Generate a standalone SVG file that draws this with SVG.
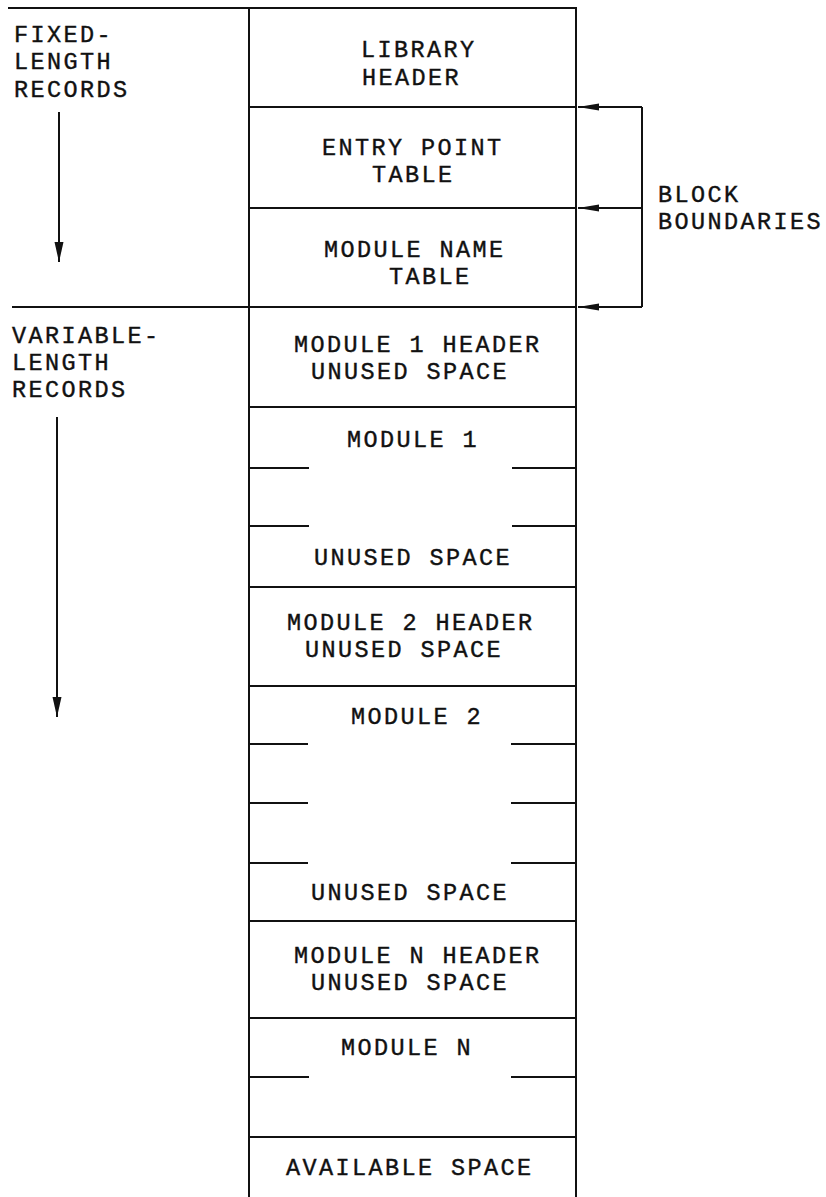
<svg xmlns="http://www.w3.org/2000/svg" width="826" height="1197" viewBox="0 0 826 1197">
<style>
text{font-family:"Liberation Mono","Courier New",monospace;font-size:23.5px;letter-spacing:2.4px;fill:#111;stroke:#111;stroke-width:0.4px}
.box{fill:none;stroke:#111;stroke-width:2}
.ln{stroke:#111;stroke-width:2;fill:none}
</style>
<defs>
<marker id="ahv" markerUnits="userSpaceOnUse" markerWidth="22" markerHeight="10" refX="20" refY="5" orient="auto"><path d="M0,0.5 L20,5 L0,9.5 Z" fill="#111"/></marker>
<marker id="ahb" markerUnits="userSpaceOnUse" markerWidth="22" markerHeight="8" refX="21" refY="4" orient="auto"><path d="M0,0.5 L21,4 L0,7.5 Z" fill="#111"/></marker>
</defs>
<rect width="826" height="1197" fill="#fff"/>

<g id="side-labels">
<text x="14" y="42">FIXED-</text>
<text x="14" y="69">LENGTH</text>
<text x="14" y="97">RECORDS</text>
<text x="12" y="343">VARIABLE-</text>
<text x="12" y="370">LENGTH</text>
<text x="12" y="397">RECORDS</text>
<text x="658" y="202">BLOCK</text>
<text x="658" y="229">BOUNDARIES</text>
</g>

<g id="library-header"><rect class="box" x="249" y="8" width="327" height="99"/><text x="361" y="57">LIBRARY</text><text x="362" y="85">HEADER</text></g>
<g id="entry-point-table"><rect class="box" x="249" y="107" width="327" height="101"/><text x="322" y="155">ENTRY POINT</text><text x="372" y="182">TABLE</text></g>
<g id="module-name-table"><rect class="box" x="249" y="208" width="327" height="99"/><text x="324" y="257">MODULE NAME</text><text x="389" y="284">TABLE</text></g>
<g id="module1-header"><rect class="box" x="249" y="307" width="327" height="100"/><text x="294" y="352">MODULE 1 HEADER</text><text x="311" y="379">UNUSED SPACE</text></g>
<g id="module1"><rect class="box" x="249" y="407" width="327" height="180"/><text x="347" y="447">MODULE 1</text>
<path class="ln" d="M249,468H309M512,468H576M249,526H309M512,526H576"/><text x="314" y="565">UNUSED SPACE</text></g>
<g id="module2-header"><rect class="box" x="249" y="587" width="327" height="99"/><text x="287" y="630">MODULE 2 HEADER</text><text x="305" y="657">UNUSED SPACE</text></g>
<g id="module2"><rect class="box" x="249" y="686" width="327" height="235"/><text x="351" y="724">MODULE 2</text>
<path class="ln" d="M249,744H308M511,744H576M249,803H308M511,803H576M249,863H308M511,863H576"/><text x="311" y="900">UNUSED SPACE</text></g>
<g id="moduleN-header"><rect class="box" x="249" y="921" width="327" height="97"/><text x="294" y="963">MODULE N HEADER</text><text x="311" y="990">UNUSED SPACE</text></g>
<g id="moduleN"><rect class="box" x="249" y="1018" width="327" height="119"/><text x="341" y="1055">MODULE N</text>
<path class="ln" d="M249,1077H309M511,1077H576"/></g>
<g id="available-space"><rect class="box" x="249" y="1137" width="327" height="70"/><text x="286" y="1175">AVAILABLE SPACE</text></g>

<g id="connectors">
<path class="ln" d="M8,8H249"/>
<path class="ln" d="M12,307H249"/>
<path class="ln" d="M642,107V307"/>
<path class="ln" d="M642,107H578" marker-end="url(#ahb)"/>
<path class="ln" d="M642,208H578" marker-end="url(#ahb)"/>
<path class="ln" d="M642,307H578" marker-end="url(#ahb)"/>
<path class="ln" d="M59,112V262" marker-end="url(#ahv)"/>
<path class="ln" d="M57,417V717" marker-end="url(#ahv)"/>
</g>
</svg>
